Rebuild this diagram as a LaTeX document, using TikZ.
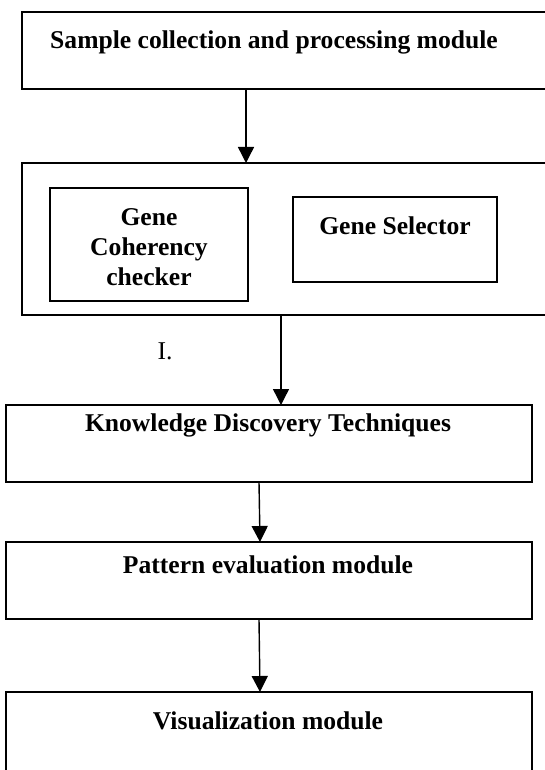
\documentclass[tikz,border=0pt]{standalone}
\usepackage{fontspec}
\setmainfont{Liberation Serif}
\usetikzlibrary{arrows.meta}
\begin{document}
\begin{tikzpicture}[x=1pt,y=-1pt,
  box/.style={draw=black, line width=1.6pt, rectangle, inner sep=0pt, outer sep=0pt, anchor=north west},
  lbl/.style={font=\fontsize{25.6}{29.8}\selectfont\bfseries, inner sep=0pt, anchor=base},
  plain/.style={font=\fontsize{25.6}{29.8}\selectfont, inner sep=0pt, anchor=base},
  arr/.style={line width=1.4pt, -{Triangle[width=16pt,length=16pt]}}]
\useasboundingbox (0,0) rectangle (545,770);
\clip (0,0) rectangle (545,770);
% boxes
\node[box, minimum width=540pt, minimum height=77pt] (b1) at (22,12) {};
\node[box, minimum width=540pt, minimum height=152pt] (b2) at (22,163) {};
\node[box, minimum width=198pt, minimum height=113pt] (gc) at (50,188) {};
\node[box, minimum width=204pt, minimum height=85pt] (gs) at (293,197) {};
\node[box, minimum width=526pt, minimum height=77pt] (b3) at (6,405) {};
\node[box, minimum width=526pt, minimum height=77pt] (b4) at (6,542) {};
\node[box, minimum width=526pt, minimum height=100pt] (b5) at (6,692) {};
% texts
\node[lbl] (t1) at (274,48.5) {Sample collection and processing module};
\node[lbl, align=center, anchor=north] (tgc) at (149,208.5) {Gene\\Coherency\\checker};
\node[lbl] (tgs) at (395,234) {Gene Selector};
\node[plain] (ti) at (165,359) {I.};
\node[lbl] (t3) at (268,431.5) {Knowledge Discovery Techniques};
\node[lbl] (t4) at (268,573) {Pattern evaluation module};
\node[lbl] (t5) at (268,729.5) {Visualization module};
% arrows
\coordinate (x1) at (246,0);
\coordinate (x2) at (281,0);
\coordinate (x3a) at (259,0);
\coordinate (x3b) at (260,0);
\draw[arr] (b1.south -| x1) -- (b2.north -| x1);
\draw[arr] (b2.south -| x2) -- (b3.north -| x2);
\draw[arr] (b3.south -| x3a) -- (b4.north -| x3b);
\draw[arr] (b4.south -| x3a) -- (b5.north -| x3b);
\end{tikzpicture}
\end{document}
